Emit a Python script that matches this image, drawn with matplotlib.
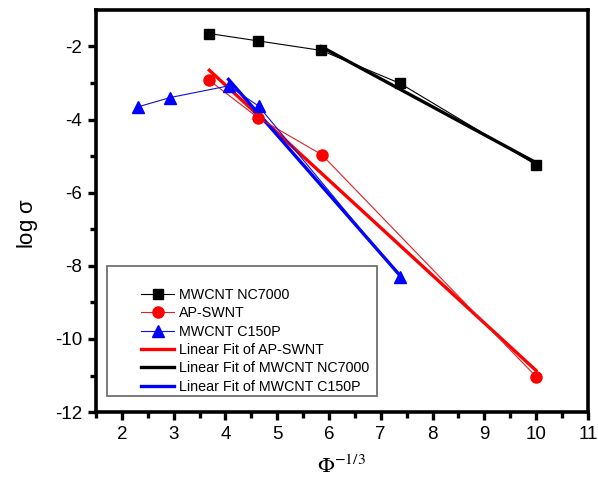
import numpy as np
import matplotlib
matplotlib.use("Agg")
import matplotlib.pyplot as plt
from matplotlib.patches import Rectangle

plt.rcParams['font.family'] = ['Liberation Sans', 'DejaVu Sans']
plt.rcParams['mathtext.fontset'] = 'stix'
plt.rcParams['axes.unicode_minus'] = False

# Conductivity data: log(sigma) versus Phi^(-1/3)
nc7000_x = [3.69, 4.63, 5.85, 7.37, 10.0]
nc7000_y = [-1.65, -1.85, -2.11, -3.01, -5.24]

apswnt_x = [3.69, 4.63, 5.86, 10.0]
apswnt_y = [-2.93, -3.95, -4.96, -11.03]

c150p_x = [2.32, 2.93, 4.06, 4.64, 7.37]
c150p_y = [-3.65, -3.40, -3.08, -3.63, -8.30]

# Points used for each linear fit
fit_ap_idx = [0, 1, 2, 3]
fit_nc_idx = [2, 3, 4]
fit_c150_idx = [2, 3, 4]

labels = ["MWCNT NC7000", "AP-SWNT", "MWCNT C150P",
          "Linear Fit of AP-SWNT", "Linear Fit of MWCNT NC7000",
          "Linear Fit of MWCNT C150P"]


def linfit(x, y, idx):
    xs = np.array(x)[idx]
    ys = np.array(y)[idx]
    k, b = np.polyfit(xs, ys, 1)
    xx = np.array([xs.min(), xs.max()])
    return xx, k * xx + b


fig = plt.figure(figsize=(5.98, 4.90), dpi=100)
ax = fig.add_axes([0.1605, 0.159, 0.8225, 0.821])

h1, = ax.plot(nc7000_x, nc7000_y, '-', color='black', lw=0.8, marker='s',
              ms=7.5, mfc='black', mec='black', zorder=3)
h2, = ax.plot(apswnt_x, apswnt_y, '-', color='#e02020', lw=0.8, marker='o',
              ms=8, mfc='red', mec='red', zorder=3)
h3, = ax.plot(c150p_x, c150p_y, '-', color='#1010e0', lw=0.8, marker='^',
              ms=8.5, mfc='blue', mec='blue', zorder=3)

fx, fy = linfit(apswnt_x, apswnt_y, fit_ap_idx)
h4, = ax.plot(fx, fy, '-', color='red', lw=2.4, zorder=2)
fx, fy = linfit(nc7000_x, nc7000_y, fit_nc_idx)
h5, = ax.plot(fx, fy, '-', color='black', lw=2.4, zorder=2)
fx, fy = linfit(c150p_x, c150p_y, fit_c150_idx)
h6, = ax.plot(fx, fy, '-', color='blue', lw=2.4, zorder=2)

ax.set_xlim(1.54, 11)
ax.set_ylim(-12, -1)
ax.set_xticks(np.arange(2, 12, 1))
ax.set_xticks(np.arange(1.5, 11.01, 0.5), minor=True)
ax.set_yticks(np.arange(-12, -1, 2))
ax.set_yticks(np.arange(-11, -1, 1), minor=True)

for side in ['left', 'bottom', 'top', 'right']:
    ax.spines[side].set_linewidth(2.6)
ax.tick_params(which='major', direction='out', length=6, width=2.4,
               labelsize=13.5, top=False, right=False, pad=4)
ax.tick_params(which='minor', direction='out', length=4, width=2.4,
               top=False, right=False)

ax.set_ylabel(r'log $\mathregular{\sigma}$', fontsize=16)
ax.yaxis.set_label_coords(-0.113, 0.47)
ax.set_xlabel(r'$\Phi^{-1/3}$', fontsize=16, labelpad=9)

# Legend frame and entries
ax.add_patch(Rectangle((0.0224, 0.0398), 0.5486, 0.3232, transform=ax.transAxes,
                       fill=False, ec='#707070', lw=1.3, zorder=4))
leg = ax.legend([h1, h2, h3, h4, h5, h6], labels, loc='upper left',
                bbox_to_anchor=(0.092, 0.308), frameon=False, fontsize=10.3,
                handlelength=2.3, handletextpad=0.35, labelspacing=0.3,
                borderpad=0, borderaxespad=0, numpoints=1)

fig.savefig('out.png', dpi=100)
